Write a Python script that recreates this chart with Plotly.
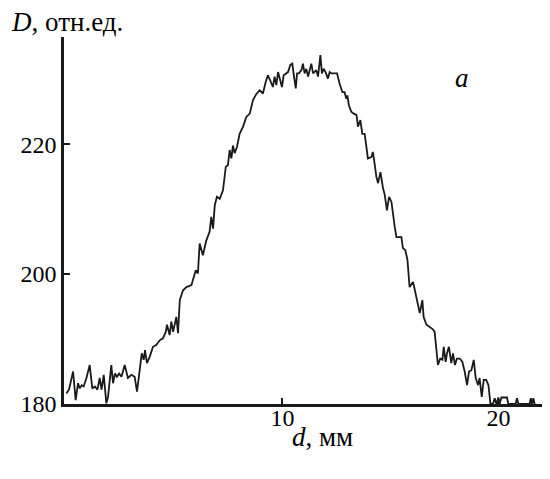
import plotly.graph_objects as go

# distance, mm
d_mm = [0.00, 0.12, 0.31, 0.43, 0.54, 0.62, 0.71, 0.80, 0.93, 1.08, 1.20, 1.32, 1.44, 1.54, 1.63, 1.73,
        1.85, 1.93, 2.08, 2.16, 2.25, 2.34, 2.44, 2.55, 2.70, 2.85, 3.01, 3.16, 3.27, 3.39, 3.49, 3.58,
        3.64, 3.73, 3.86, 4.01, 4.17, 4.32, 4.47, 4.60, 4.66, 4.78, 4.86, 4.94, 5.01, 5.09, 5.17, 5.25,
        5.40, 5.56, 5.79, 5.99, 6.09, 6.17, 6.32, 6.48, 6.63, 6.71, 6.79, 6.87, 6.97, 7.10, 7.25, 7.38,
        7.48, 7.56, 7.64, 7.71, 7.79, 7.90, 8.02, 8.18, 8.33, 8.49, 8.64, 8.79,
        8.95, 9.10, 9.23, 9.33, 9.44, 9.56, 9.64, 9.72, 9.80, 9.91, 9.98, 10.06, 10.15, 10.26, 10.37,
        10.46, 10.54, 10.62, 10.68, 10.77, 10.88, 10.95, 11.03, 11.11, 11.19, 11.26, 11.34, 11.42, 11.50,
        11.57, 11.65, 11.76, 11.83, 11.91, 12.00, 12.11, 12.19, 12.27, 12.34, 12.53, 12.65, 12.78, 12.88,
        12.96, 13.01, 13.08, 13.19,
        13.30, 13.43, 13.50, 13.61, 13.70, 13.81, 13.89, 13.96, 14.12, 14.19, 14.27, 14.35, 14.43, 14.54,
        14.66, 14.74, 14.84, 14.94, 15.05, 15.12, 15.20, 15.28, 15.43, 15.51, 15.58, 15.69, 15.79,
        15.89, 16.05, 16.20, 16.36, 16.48, 16.54, 16.67, 16.82, 16.97,
        17.05, 17.20, 17.31, 17.41, 17.47, 17.56, 17.62, 17.71, 17.82, 17.90, 17.99, 18.08, 18.21, 18.33,
        18.44, 18.55, 18.64, 18.75, 18.86, 18.95, 19.06, 19.13, 19.23, 19.32, 19.44, 19.54, 19.63, 19.75,
        19.83, 19.91, 20.00, 20.06, 20.14, 20.40, 20.46, 20.80, 20.86, 20.93, 21.45, 21.50, 21.56, 21.62,
        21.68]

# optical density, rel. units
D_val = [181.6, 182.2, 185.0, 180.6, 183.2, 182.4, 182.9, 182.7, 184.0, 186.0, 182.4, 182.7, 182.2, 184.0, 182.2, 184.5,
         180.1, 181.1, 186.0, 183.2, 184.7, 184.2, 184.7, 184.2, 186.0, 184.0, 184.5, 184.2, 181.9, 185.7, 187.8, 186.8,
         188.3, 186.3, 187.3, 188.8, 189.1, 189.8, 190.1, 191.1, 192.2, 190.6, 192.7, 191.1, 192.2, 193.4, 190.9, 196.0,
         197.5, 198.0, 198.3, 200.6, 200.1, 204.7, 202.9, 205.2, 206.5, 208.8, 207.0, 210.6, 211.9, 211.6, 212.9, 216.5,
         216.8, 219.1, 217.8, 219.8, 218.6, 219.6, 221.6, 222.7, 224.2, 224.7, 226.8, 227.7,
         228.3, 227.8, 229.6, 230.6, 229.8, 228.8, 230.4, 229.1, 231.1, 229.8, 228.8, 230.6, 230.9, 231.1, 232.2,
         232.4, 230.4, 228.6, 230.9, 230.9, 231.4, 232.4, 230.9, 231.6, 230.4, 231.4, 232.4, 230.9, 231.1,
         231.4, 230.4, 233.7, 230.9, 231.6, 231.1, 230.1, 231.1, 230.9, 230.9, 230.9, 229.3, 228.0, 228.0,
         227.0, 227.5, 226.0, 225.0,
         224.7, 224.5, 222.7, 223.7, 221.6, 221.6, 219.8, 217.8, 218.0, 218.8, 217.0, 215.0, 214.0, 215.7,
         213.2, 212.2, 209.8, 211.9, 211.1, 208.8, 207.3, 205.7, 205.7, 205.7, 204.0, 203.7, 202.2,
         198.0, 198.8, 196.5, 194.0, 196.0, 193.4, 192.2, 191.9, 191.5,
         191.1, 186.0, 187.0, 186.8, 188.8, 186.5, 187.8, 188.8, 186.3, 187.8, 186.0, 187.0, 187.0, 186.5,
         185.0, 182.9, 185.0, 185.2, 186.8, 184.0, 182.9, 184.0, 181.1, 183.7, 183.7, 182.9, 180.1, 180.0,
         180.9, 180.0, 181.0, 180.0, 181.0, 181.0, 180.0, 180.0, 180.9, 180.0, 180.0, 180.9, 180.0, 180.9,
         180.0]

x_ticks = [10, 20]
y_ticks = [180, 200, 220]

FONT = "Liberation Serif, Times New Roman, Times, serif"

fig = go.Figure()
fig.add_trace(go.Scatter(x=d_mm, y=D_val, mode="lines",
                         line=dict(color="#1a1a1a", width=1.8), showlegend=False))

fig.update_layout(
    width=542, height=471,
    margin=dict(l=56, r=0, t=29, b=75),
    paper_bgcolor="white", plot_bgcolor="white",
    font=dict(family=FONT, size=24, color="black"),
    xaxis=dict(range=[-0.11, 22.39], showline=True, linecolor="#1a1a1a", linewidth=2.5,
               showgrid=False, zeroline=False, ticks="inside", ticklen=6, tickwidth=2,
               tickcolor="#1a1a1a", tickvals=x_ticks, ticktext=[str(v) for v in x_ticks],
               ticklabelstandoff=-10, automargin=False,
               tickfont=dict(family=FONT, size=24, color="black")),
    yaxis=dict(range=[180, 236.5], showline=True, linecolor="#1a1a1a", linewidth=2.5,
               showgrid=False, zeroline=False, ticks="inside", ticklen=6, tickwidth=2,
               tickcolor="#1a1a1a", tickvals=y_ticks, ticktext=[str(v) for v in y_ticks],
               automargin=False,
               tickfont=dict(family=FONT, size=24, color="black")),
    annotations=[
        dict(text="<i>D</i>, отн.ед.", xref="paper", yref="paper", x=-0.113, y=1.041,
             xanchor="left", yanchor="middle", showarrow=False,
             font=dict(family=FONT, size=27, color="black")),
        dict(text="<i>d</i>, мм", xref="paper", yref="paper", x=0.531, y=-0.09,
             xanchor="center", yanchor="middle", showarrow=False,
             font=dict(family=FONT, size=27, color="black")),
        dict(text="<i>a</i>", xref="paper", yref="paper", x=0.819, y=0.888,
             xanchor="center", yanchor="middle", showarrow=False,
             font=dict(family=FONT, size=27, color="black")),
    ],
)

fig.write_html("out.html")
